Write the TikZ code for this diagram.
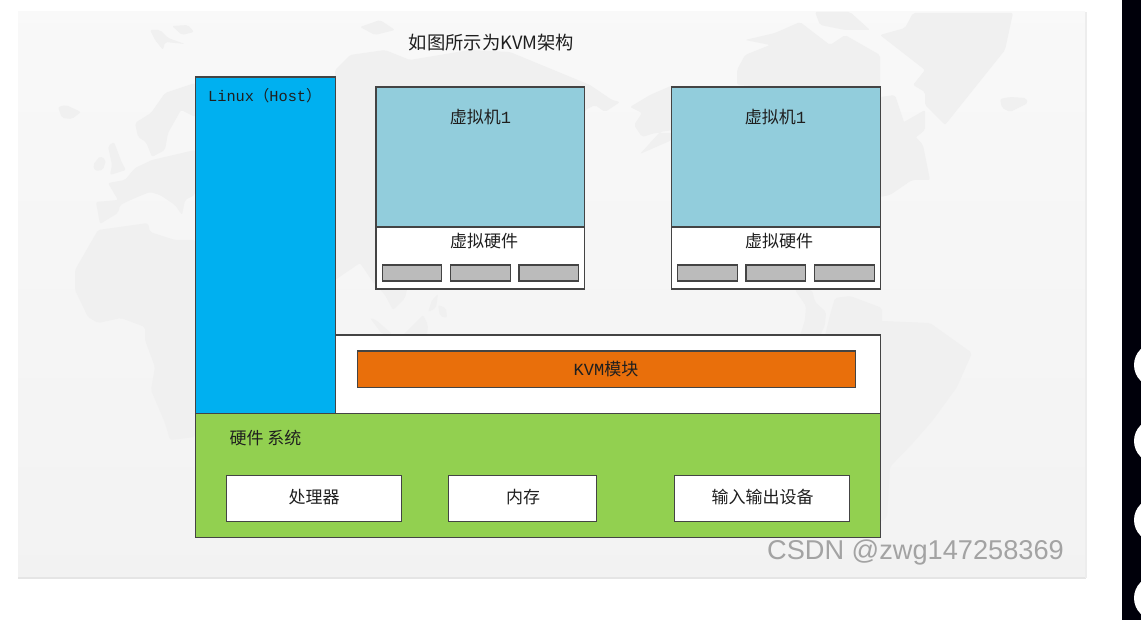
\documentclass[tikz,border=0pt]{standalone}
\usepackage{fontspec}
\setmainfont{Noto Sans CJK SC}
\newfontfamily\monofnt{Liberation Mono}
\newfontfamily\latinfnt{Liberation Sans}
\definecolor{land}{HTML}{F0F0F0}
\definecolor{edgeC}{HTML}{444444}
\definecolor{hostblue}{HTML}{00B0F0}
\definecolor{vmteal}{HTML}{92CDDC}
\definecolor{kvmorange}{HTML}{E96F0B}
\definecolor{hwgreen}{HTML}{92D050}
\definecolor{slotgrey}{HTML}{BBBBBB}
\tikzset{
  x=1pt,y=-1pt,
  lbl/.style={font=\fontsize{17}{17}\selectfont,text=black!88,inner sep=0pt},
  monolbl/.style={font=\monofnt\fontsize{15.3}{15.3}\selectfont,text=black!88,inner sep=0pt},
  ld/.style={fill=land,draw=none,rounded corners=2pt},
  boxA/.style={draw=edgeC,line width=1.7pt,inner sep=0pt,anchor=north west,rectangle},
}
% name, x0, y0, x1, y1, fill
\newcommand{\pbox}[6]{\pgfmathsetmacro{\bw}{#4-#2}\pgfmathsetmacro{\bh}{#5-#3}%
  \pgfmathsetmacro{\bx}{#2-0.5}\pgfmathsetmacro{\by}{#3-0.5}%
  \node[boxA,fill=#6,minimum width=\bw pt,minimum height=\bh pt] (#1) at (\bx,\by) {};}
\begin{document}
\begin{tikzpicture}
\useasboundingbox (0,0) rectangle (1141,620);
\fill[white] (0,0) rectangle (1141,620);
% panel
\shade[top color=black!2.5,bottom color=black!5] (18,12) rectangle (1085,577);
\fill[black!10] (18,576.5) rectangle (1086,578.5);
\fill[black!7] (1085,12) rectangle (1086.5,578);
% faint world map
\begin{scope}
\clip (18,12) rectangle (1085,577);
% Iceland, Svalbard
\fill[ld] (58,107)--(66,105)--(81,112)--(72,119)--(62,118)--cycle;
\fill[ld] (150,30)--(160,30)--(168,38)--(185,44)--(165,42)--(163,50)--(155,40)--cycle;
\fill[ld] (172,26)--(188,25)--(194,32)--(182,35)--cycle;
% Ireland, UK
\fill[ld] (93,165)--(100,156)--(106,160)--(103,170)--(95,171)--cycle;
\fill[ld] (108,146)--(114,142)--(122,163)--(126,170)--(110,175)--(112,165)--cycle;
% Scandinavia
\fill[ld] (135,123)--(151,113)--(165,93)--(195,83)--(195,117)--(181,110)--(168,133)--(165,150)--(152,157)--(146,142)--(138,137)--cycle;
% Europe
\fill[ld] (96,202)--(118,200)--(108,183)--(125,180)--(135,168)--(152,160)--(195,150)--(195,195)--(185,200)--(182,215)--(175,205)--(160,195)--(150,192)--(135,198)--(120,205)--(118,213)--(100,224)--cycle;
% Africa
\fill[ld] (75,270)--(98,230)--(148,223)--(150,232)--(175,240)--(195,240)--(195,437)--(170,440)--(165,423)--(151,390)--(155,367)--(145,340)--(145,327)--(121,318)--(98,323)--(88,317)--(75,290)--cycle;
% Asia
\fill[ld] (335,70)--(350,55)--(385,50)--(410,60)--(470,50)--(510,52)--(590,85)--(612,100)--(620,102)--(605,112)--(595,105)--(585,110)--(585,220)--(375,285)--(360,263)--(335,280)--cycle;
\fill[ld] (360,27)--(380,20)--(395,30)--(375,35)--cycle;
% SE Asia
\fill[ld] (376,285)--(408,285)--(405,298)--(393,310)--(385,295)--cycle;
\fill[ld] (370,318)--(376,320)--(392,334)--(382,334)--cycle;
\fill[ld] (432,300)--(438,294)--(436,308)--(428,312)--cycle;
\fill[ld] (438,305)--(446,308)--(447,318)--(440,316)--cycle;
\fill[ld] (423,315)--(428,325)--(427,335)--(403,335)--cycle;
% Alaska
\fill[ld] (673,85)--(650,95)--(630,107)--(642,113)--(634,125)--(642,137)--(655,133)--(672,133)--(672,140)--(640,154)--(660,132)--(673,130)--cycle;
% Arctic Canada
\fill[ld] (737,70)--(745,55)--(770,45)--(745,40)--(775,33)--(800,22)--(830,45)--(845,35)--(880,55)--(880,95)--(737,85)--cycle;
\fill[ld] (815,12)--(850,12)--(870,30)--(845,30)--(820,25)--cycle;
% Greenland
\fill[ld] (880,35)--(905,28)--(913,13)--(1013,13)--(1005,50)--(985,75)--(965,100)--(945,125)--(925,105)--(925,92)--(913,85)--(925,70)--cycle;
\fill[ld] (1000,99)--(1010,97)--(1026,98)--(1028,103)--(1010,112)--(1002,108)--cycle;
% E. Canada
\fill[ld] (880,97)--(895,95)--(905,125)--(923,145)--(930,180)--(912,180)--(890,195)--(880,197)--cycle;
\fill[ld] (880,130)--(890,130)--(925,110)--(925,130)--(900,150)--cycle;
% Central America
\fill[ld] (795,290)--(812,290)--(815,302)--(826,312)--(825,325)--(820,336)--(800,336)--(805,320)--(806,306)--cycle;
\fill[ld] (835,298)--(850,296)--(882,308)--(882,336)--(825,336)--(830,315)--cycle;
% South America
\fill[ld] (857,320)--(930,323)--(972,353)--(957,387)--(933,420)--(913,443)--(890,467)--(887,517)--(870,530)--(857,500)--cycle;
\end{scope}
% dark strip with circles
\fill[black!96!blue] (1122,0) rectangle (1141,620);
\begin{scope}
\clip (1122,0) rectangle (1141,620);
\foreach \yy in {365,441,520,598} \fill[white] (1156,\yy) circle (22);
\end{scope}
% title
\node[lbl,font=\fontsize{18.3}{18.3}\selectfont] (title) at (491.5,43) {如图所示为KVM架构};
% host
\pbox{linux}{195}{77}{335}{413}{hostblue}
\node[monolbl,anchor=west] (linuxT) at (208,96) {Linux{\rmfamily\fontsize{15.3}{15.3}\selectfont （}Host{\rmfamily\fontsize{15.3}{15.3}\selectfont ）}};
% VM 1
\pbox{vmA}{375.5}{86.5}{584}{226.5}{vmteal}
\pbox{hwA}{375.5}{226.5}{584}{288.5}{white}
\node[lbl] (vmAT) at (480.5,117) {虚拟机{\monofnt 1}};
\node[lbl] (hwAT) at (484,241) {虚拟硬件};
\pbox{sA1}{382}{265}{441}{281}{slotgrey}
\pbox{sA2}{450}{265}{510}{281}{slotgrey}
\pbox{sA3}{518.5}{265}{578}{281}{slotgrey}
% VM 2
\pbox{vmB}{671}{86.5}{880}{226.5}{vmteal}
\pbox{hwB}{671}{226.5}{880}{288.5}{white}
\node[lbl] (vmBT) at (775.5,117) {虚拟机{\monofnt 1}};
\node[lbl] (hwBT) at (779,241) {虚拟硬件};
\pbox{sB1}{677}{265}{737}{281}{slotgrey}
\pbox{sB2}{745.5}{265}{805}{281}{slotgrey}
\pbox{sB3}{814}{265}{874}{281}{slotgrey}
% KVM
\pbox{kvmOuter}{335}{335}{880}{413}{white}
\pbox{kvm}{357}{351}{855}{387}{kvmorange}
\node[lbl] (kvmT) at (606,369) {{\monofnt KVM}模块};
% hardware
\pbox{hw}{195}{413}{880}{537}{hwgreen}
\node[lbl] (hwT) at (265.5,438) {硬件 系统};
\pbox{cpu}{226}{475}{401}{521}{white}
\node[lbl] (cpuT) at (314,497.5) {处理器};
\pbox{mem}{448}{475}{596}{521}{white}
\node[lbl] (memT) at (523,497.5) {内存};
\pbox{io}{674}{475}{849}{521}{white}
\node[lbl] (ioT) at (762.5,497.5) {输入输出设备};
% watermark
\node[inner sep=0pt,font=\latinfnt\fontsize{27.2}{27.2}\selectfont,text=black!36] (wm) at (915.5,552) {CSDN @zwg147258369};
\end{tikzpicture}
\end{document}
